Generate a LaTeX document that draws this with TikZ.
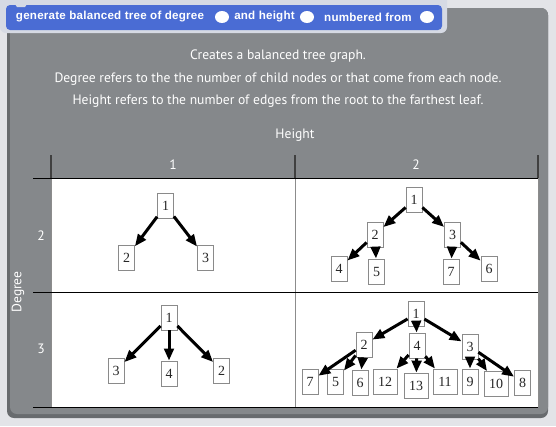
\documentclass[tikz,border=0pt]{standalone}
\usepackage{fontspec}
\setmainfont{Liberation Serif}
\newfontfamily\descfont{PT Sans}
\newfontfamily\blockfont{Liberation Sans}[LetterSpace=2]
\usetikzlibrary{arrows.meta}
\definecolor{bgc}{HTML}{E3E4E8}
\definecolor{panelc}{HTML}{85888B}
\definecolor{shadowc}{HTML}{686B6E}
\definecolor{blockc}{HTML}{4A6CD4}
\definecolor{blockrim}{HTML}{D6DAE4}
\definecolor{boxline}{HTML}{8A8A8A}
\tikzset{
  tnode/.style={draw=boxline, line width=0.8pt, fill=white, minimum width=16pt, minimum height=25pt, inner sep=0pt, font=\fontsize{14}{14}\selectfont, text=black!85},
  wnode/.style={tnode, minimum width=24pt},
  edge/.style={line width=3pt, black, -{Triangle[length=12pt,width=9.5pt]}},
  desc/.style={text=white, font=\descfont\fontsize{13.6}{15}\selectfont, inner sep=0pt},
  btxt/.style={text=white, font=\blockfont\bfseries\fontsize{11.6}{14}\selectfont, inner sep=0pt},
  slot/.style={fill=white, draw=none, ellipse, minimum width=14pt, minimum height=12pt, inner sep=0pt},
  hline/.style={black, line width=1pt},
  hdrv/.style={black!75, line width=1.5pt},
  tblv/.style={black!45, line width=1pt}
}
\usetikzlibrary{shapes.geometric}
\begin{document}
\begin{tikzpicture}[x=1pt,y=-1pt]
\useasboundingbox (0,0) rectangle (556,426);
\fill[bgc] (0,0) rectangle (556,426);
% panel
\fill[shadowc, rounded corners=7] (7,8) rectangle (548,418);
\fill[panelc, rounded corners=7] (10,8) rectangle (548,414);
% block
\fill[blockrim, rounded corners=6] (0,-6) rectangle (447,33);
\fill[blockc, rounded corners=4] (6,5) rectangle (442,30);
\fill[blockrim] (15,4) -- (17,7) -- (25,7) -- (27,4) -- cycle;
\node[btxt] (bt1) at (110,17) {generate balanced tree of degree};
\node[slot] (s1) at (222,17) {};
\node[btxt] (bt2) at (264.5,17) {and height};
\node[slot] (s2) at (307,17) {};
\node[btxt] (bt3) at (368,17) {numbered from};
\node[slot] (s3) at (427,17) {};
% description
\node[desc] (l1) at (278,56) {Creates a balanced tree graph.};
\node[desc] (l2) at (278,79) {Degree refers to the the number of child nodes or that come from each node.};
\node[desc] (l3) at (278,101) {Height refers to the number of edges from the root to the farthest leaf.};
\node[desc] (hh) at (295,135) {Height};
\node[desc] (h1) at (173,165) {1};
\node[desc] (h2) at (416,165) {2};
\node[desc] (d2) at (41,236) {2};
\node[desc] (d3) at (41,349) {3};
\node[desc, rotate=90] (dg) at (18,292) {Degree};
% table
\fill[white] (51,178) rectangle (538,407);
\draw[hdrv] (51,155) -- (51,178);
\draw[hdrv] (295,155) -- (295,178);
\draw[hdrv] (538,155) -- (538,178);
\draw[tblv] (51,178) -- (51,407);
\draw[tblv] (295,178) -- (295,407);
\draw[tblv] (538,178) -- (538,407);
\draw[hline] (33,178) -- (538,178);
\draw[hline] (33,292) -- (538,292);
\draw[hline] (33,407) -- (538,407);
% cell A: degree 2, height 1
\node[tnode] (a1) at (165.5,205.5) {1};
\node[tnode] (a2) at (126.5,257.5) {2};
\node[tnode] (a3) at (205.5,257.5) {3};
\draw[edge] (a1) -- (a2);
\draw[edge] (a1) -- (a3);
% cell B: degree 2, height 2
\node[tnode] (b1) at (414,200) {1};
\node[tnode] (b2) at (375,234.5) {2};
\node[tnode] (b3) at (452.5,234.5) {3};
\node[tnode] (b4) at (339,268.5) {4};
\node[tnode] (b5) at (376.5,271.5) {5};
\node[tnode] (b7) at (451,271.5) {7};
\node[tnode] (b6) at (489,268.5) {6};
\draw[edge] (b1) -- (b2);
\draw[edge] (b1) -- (b3);
\draw[edge] (b2) -- (b4);
\draw[edge] (b2) -- (b5);
\draw[edge] (b3) -- (b7);
\draw[edge] (b3) -- (b6);
% cell C: degree 3, height 1
\node[tnode] (c1) at (169,317.5) {1};
\node[tnode] (c3) at (116,370.5) {3};
\node[tnode] (c4) at (169,373.5) {4};
\node[tnode] (c2) at (221.5,370.5) {2};
\draw[edge] (c1) -- (c3);
\draw[edge] (c1) -- (c4);
\draw[edge] (c1) -- (c2);
% cell D: degree 3, height 2
\node[tnode] (e1) at (416,314) {1};
\node[tnode] (e2) at (364,344.5) {2};
\node[tnode] (e4) at (417,345.5) {4};
\node[tnode] (e3) at (470,346.5) {3};
\node[tnode] (e7) at (310,381.5) {7};
\node[tnode] (e5) at (335.5,381.5) {5};
\node[tnode] (e6) at (360,382.5) {6};
\node[wnode] (e12) at (385,381.5) {12};
\node[wnode] (e13) at (416,385.5) {13};
\node[wnode] (e11) at (445,381.5) {11};
\node[tnode] (e9) at (470,381.5) {9};
\node[wnode] (e10) at (496,384) {10};
\node[tnode] (e8) at (522.5,382.5) {8};
\draw[edge] (e1) -- (e2);
\draw[edge] (e1) -- (e4);
\draw[edge] (e1) -- (e3);
\draw[edge] (e2) -- (e7);
\draw[edge] (e2) -- (e5);
\draw[edge] (e2) -- (e6);
\draw[edge] (e4) -- (e12);
\draw[edge] (e4) -- (e13);
\draw[edge] (e4) -- (e11);
\draw[edge] (e3) -- (e9);
\draw[edge] (e3) -- (e10);
\draw[edge] (e3) -- (e8);
\end{tikzpicture}
\end{document}
